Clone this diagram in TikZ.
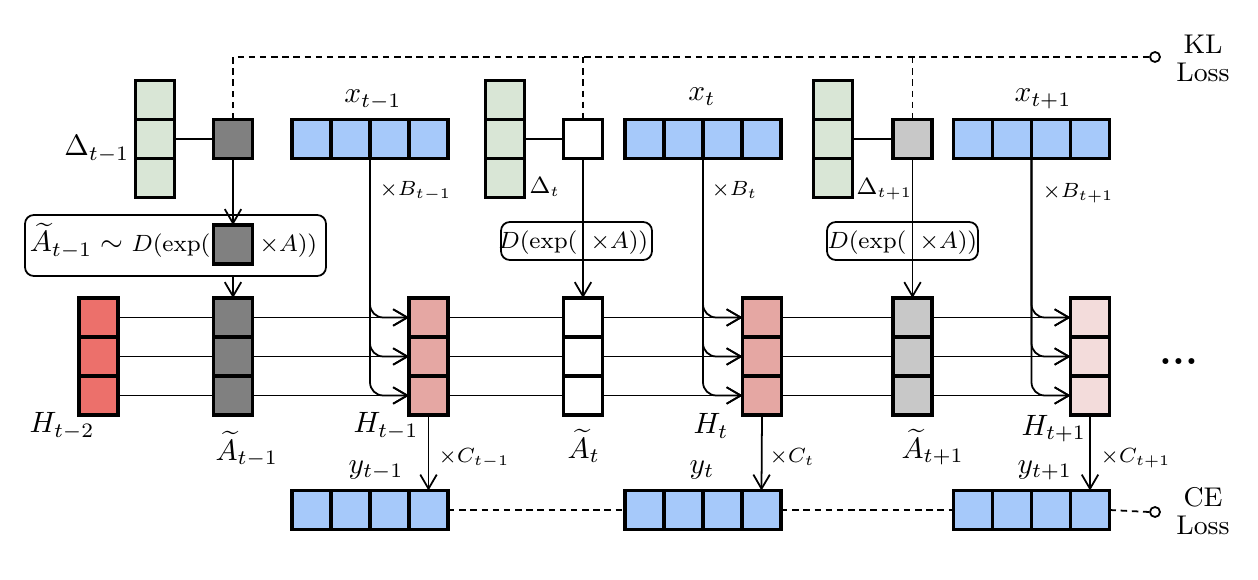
\documentclass[tikz,border=0pt]{standalone}
\usetikzlibrary{arrows.meta}
\definecolor{blueC}{RGB}{166,201,250}
\definecolor{greenC}{RGB}{217,230,214}
\definecolor{redC}{RGB}{236,112,107}
\definecolor{pinkC}{RGB}{229,167,163}
\definecolor{pinkL}{RGB}{243,220,219}
\definecolor{grayD}{RGB}{128,128,128}
\definecolor{grayL}{RGB}{200,200,200}
\tikzset{
 cell/.style={draw, line width=1.35pt, minimum width=13.26pt, minimum height=13.26pt, inner sep=0pt, outer sep=0pt},
 conn/.style={line width=0.6pt},
 arr/.style={conn, -{Straight Barb[length=4.8pt,width=5.6pt]}},
 dsh/.style={line width=0.6pt, dash pattern=on 2.2pt off 1.6pt},
 lbl/.style={inner sep=0pt, font=\fontsize{10}{12}\selectfont},
 fbox/.style={draw, rounded corners=3pt, line width=0.6pt, inner sep=0pt},
 fboxtxt/.style={inner sep=0pt, font=\fontsize{8}{9.6}\selectfont},
 multlbl/.style={inner sep=0pt, font=\fontsize{7}{8.4}\selectfont},
 dlbl/.style={inner sep=0pt, font=\fontsize{7.6}{9}\selectfont},
 losstxt/.style={inner sep=0pt, align=center, font=\fontsize{9.2}{9.5}\selectfont},
 lossc/.style={circle, draw, fill=white, line width=0.6pt, minimum size=3.4pt, inner sep=0pt},
}
\newcommand{\vcol}[4]{%
  \node[cell,fill=#4] (#1-1) at (#2,#3+19.5) {};
  \node[cell,fill=#4] (#1-2) at (#2,#3+58.5) {};
  \node[cell,fill=#4] (#1-3) at (#2,#3+97.5) {};
}
\newcommand{\hrow}[4]{%
  \node[cell,fill=#4] (#1-1) at (#2+19.5,#3) {};
  \node[cell,fill=#4] (#1-2) at (#2+58.5,#3) {};
  \node[cell,fill=#4] (#1-3) at (#2+97.5,#3) {};
  \node[cell,fill=#4] (#1-4) at (#2+136.5,#3) {};
}
\begin{document}
\begin{tikzpicture}[x=0.34pt, y=-0.34pt]
\useasboundingbox (0,0) rectangle (1258,580);

% top row
\vcol{D1}{155}{80.5}{greenC}
\node[cell,fill=grayD] (G1) at (233,139) {};
\hrow{X1}{292}{139}{blueC}
\vcol{D2}{505}{80.5}{greenC}
\node[cell,fill=white] (G2) at (583,139) {};
\hrow{X2}{625}{139}{blueC}
\vcol{D3}{833}{80.5}{greenC}
\node[cell,fill=grayL] (G3) at (912.5,139) {};
\hrow{X3}{953.5}{139}{blueC}

% hidden state row
\vcol{H0}{98.5}{298}{redC}
\vcol{A1}{233}{298}{grayD}
\vcol{H1}{428.5}{298}{pinkC}
\vcol{A2}{583}{298}{white}
\vcol{H2}{762}{298}{pinkC}
\vcol{A3}{912.5}{298}{grayL}
\vcol{H3}{1090}{298}{pinkL}

% outputs
\hrow{Y1}{292}{510}{blueC}
\hrow{Y2}{625}{510}{blueC}
\hrow{Y3}{953.5}{510}{blueC}

% formula boxes
\node[fbox, minimum width=102.34pt, minimum height=20.74pt] (F1) at (175.5,245.5) {};
\node[cell,fill=grayD] (G1b) at (233,244.5) {};
\node[lbl, anchor=base east] (F1a) at (124,252) {$\widetilde{A}_{t-1}\sim$};
\node[fboxtxt, anchor=base east] (F1b) at (211,252) {$D(\exp($};
\node[fboxtxt, anchor=base west] (F1c) at (259,252) {$\times A))$};

\node[fbox, minimum width=51.34pt, minimum height=12.92pt] (F2) at (576.5,241) {};
\node[fboxtxt, anchor=base east] (F2b) at (578,249) {$D(\exp($};
\node[fboxtxt, anchor=base west] (F2c) at (590,249) {$\times A))$};

\node[fbox, minimum width=51.34pt, minimum height=12.92pt] (F3) at (902.5,241) {};
\node[fboxtxt, anchor=base east] (F3b) at (907,249) {$D(\exp($};
\node[fboxtxt, anchor=base west] (F3c) at (919,249) {$\times A))$};

% losses
\node[lossc] (klc) at (1155,57) {};
\node[losstxt] (kl) at (1203,58) {KL\\Loss};
\node[lossc] (cec) at (1155,512) {};
\node[losstxt] (ce) at (1203,511) {CE\\Loss};

% dashed loss lines
\draw[dsh] (G1.north) |- (klc.west);
\draw[dsh] (G2.north |- klc.west) -- (G2.north);
\draw[dsh] (G3.north |- klc.west) -- (G3.north);
\draw[dsh] (Y1-4.east) -- (Y2-1.west);
\draw[dsh] (Y2-4.east) -- (Y3-1.west);
\draw[dsh] (Y3-4.east) -- (cec.west);

% delta to square
\draw[conn] (D1-2.east) -- (G1.west);
\draw[conn] (D2-2.east) -- (G2.west);
\draw[conn] (D3-2.east) -- (G3.west);

% square to A
\draw[arr] (G1.south) -- (G1b.north);
\draw[arr] (G1b.south |- F1.south) -- (A1-1.north);
\draw[arr] (G2.south) -- (A2-1.north);
\draw[arr] (G3.south) -- (A3-1.north);

% horizontal state flow
\foreach \i in {1,2,3} {
  \draw[conn] (H0-\i.east) -- (A1-\i.west);
  \draw[arr] (A1-\i.east) -- (H1-\i.west);
  \draw[conn] (H1-\i.east) -- (A2-\i.west);
  \draw[arr] (A2-\i.east) -- (H2-\i.west);
  \draw[conn] (H2-\i.east) -- (A3-\i.west);
  \draw[arr] (A3-\i.east) -- (H3-\i.west);
  \draw[arr, rounded corners=4.5pt] (X1-2.south east) |- (H1-\i.west);
  \draw[arr, rounded corners=4.5pt] (X2-2.south east) |- (H2-\i.west);
  \draw[arr, rounded corners=4.5pt] (X3-2.south east) |- (H3-\i.west);
}

% outputs
\draw[arr] (H1-3.south) -- (Y1-4.north);
\draw[arr] (H2-3.south) -- (Y2-4.north);
\draw[arr] (H3-3.south) -- (Y3-4.north);

% labels
\node[lbl, anchor=base east] (lD1) at (130,156) {$\Delta_{t-1}$};
\node[dlbl, anchor=base west] (lD2) at (529,194) {$\Delta_t$};
\node[dlbl, anchor=base west] (lD3) at (856,195) {$\Delta_{t+1}$};
\node[lbl, anchor=base] (lX1) at (373,103) {$x_{t-1}$};
\node[lbl, anchor=base] (lX2) at (702,101) {$x_t$};
\node[lbl, anchor=base] (lX3) at (1043,102) {$x_{t+1}$};
\node[multlbl, anchor=base west] (lB1) at (379,196) {$\times B_{t-1}$};
\node[multlbl, anchor=base west] (lB2) at (711,196) {$\times B_t$};
\node[multlbl, anchor=base west] (lB3) at (1042,198) {$\times B_{t+1}$};
\node[lbl, anchor=base west] (lH0) at (29,433) {$H_{t-2}$};
\node[lbl, anchor=base west] (lH1) at (353,433) {$H_{t-1}$};
\node[lbl, anchor=base west] (lH2) at (693,434) {$H_t$};
\node[lbl, anchor=base west] (lH3) at (1021,435) {$H_{t+1}$};
\node[lbl, anchor=base west] (lA1) at (215,460) {$\widetilde{A}_{t-1}$};
\node[lbl, anchor=base west] (lA2) at (567,458) {$\widetilde{A}_t$};
\node[lbl, anchor=base west] (lA3) at (901,458) {$\widetilde{A}_{t+1}$};
\node[lbl, anchor=base west] (lY1) at (348,473) {$y_{t-1}$};
\node[lbl, anchor=base west] (lY2) at (689,473) {$y_t$};
\node[lbl, anchor=base west] (lY3) at (1017,473) {$y_{t+1}$};
\node[multlbl, anchor=base west] (lC1) at (438,463) {$\times C_{t-1}$};
\node[multlbl, anchor=base west] (lC2) at (769,463) {$\times C_t$};
\node[multlbl, anchor=base west] (lC3) at (1100,463) {$\times C_{t+1}$};
\node[inner sep=0pt, font=\fontsize{14}{14}\selectfont\bfseries] (dots) at (1179,362) {...};
\end{tikzpicture}
\end{document}
